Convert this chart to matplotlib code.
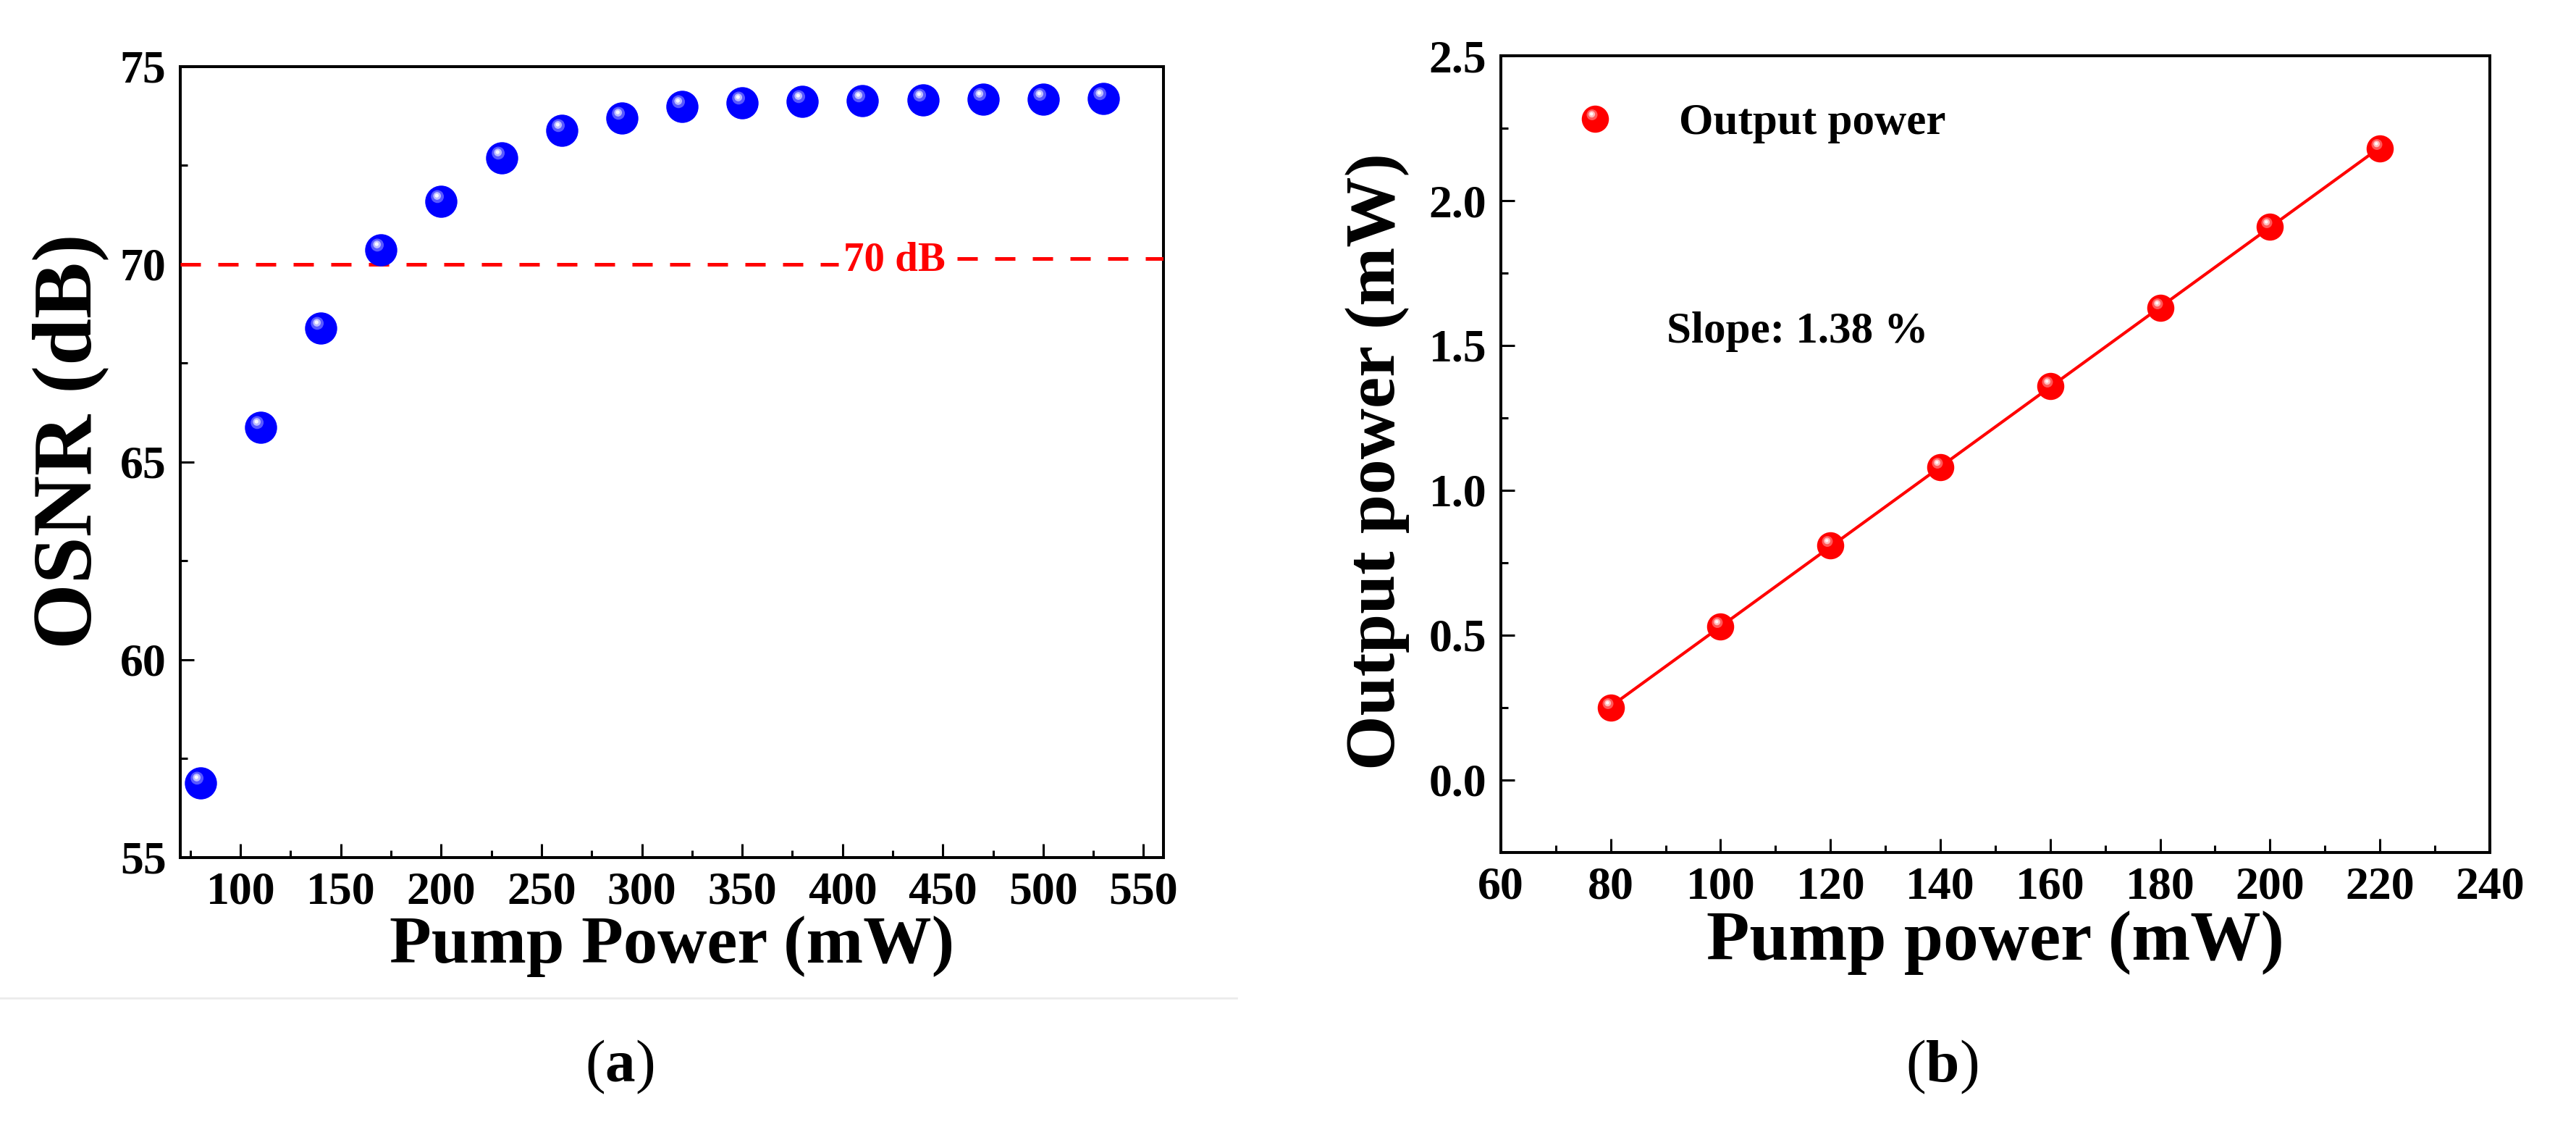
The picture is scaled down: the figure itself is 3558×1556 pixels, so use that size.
import matplotlib
matplotlib.use('Agg')
import matplotlib.pyplot as plt
import numpy as np
from matplotlib.path import Path
from matplotlib.markers import MarkerStyle
from matplotlib.lines import Line2D
from matplotlib.ticker import MultipleLocator, FormatStrFormatter
from matplotlib.legend_handler import HandlerTuple

# data
pump_a = [80, 110, 140, 170, 200, 230, 260, 290, 320, 350, 380, 410, 440, 470, 500, 530]
osnr = [56.89, 65.88, 68.39, 70.37, 71.59, 72.69, 73.39, 73.69, 73.99, 74.09,
        74.12, 74.13, 74.15, 74.17, 74.18, 74.19]
pump_b = [80, 100, 120, 140, 160, 180, 200, 220]
out_power = [0.25, 0.53, 0.81, 1.08, 1.36, 1.63, 1.91, 2.18]

plt.rcParams['font.family'] = ['Liberation Serif', 'DejaVu Serif']
plt.rcParams['font.weight'] = 'bold'
plt.rcParams['mathtext.fontset'] = 'custom'
plt.rcParams['mathtext.rm'] = 'Liberation Serif'
plt.rcParams['mathtext.bf'] = 'Liberation Serif:bold'


def glint(cx, cy, r):
    # off-centre highlight as its own marker path (the lone moveto fixes the scale)
    c = Path.circle((cx, cy), r)
    verts = [(0.5, 0.5)] + list(c.vertices)
    codes = [Path.MOVETO] + list(c.codes)
    return MarkerStyle(Path(verts, codes))


def sphere(ax, x, y, color, ms):
    h0, = ax.plot(x, y, 'o', color=color, ms=ms, mec=color, mew=0, zorder=5)
    h1, = ax.plot(x, y, ls='none', marker=glint(-0.12, 0.16, 0.2), color='white',
                  alpha=0.35, ms=ms, mew=0, zorder=6)
    h2, = ax.plot(x, y, ls='none', marker=glint(-0.13, 0.18, 0.12), color='white',
                  alpha=0.6, ms=ms, mew=0, zorder=7)
    h3, = ax.plot(x, y, ls='none', marker=glint(-0.14, 0.19, 0.06), color='white',
                  alpha=0.9, ms=ms, mew=0, zorder=8)
    return (h0, h1, h2, h3)


def style(ax):
    for s in ax.spines.values():
        s.set_linewidth(2.9)
    ax.tick_params(which='both', direction='in', top=False, right=False,
                   width=2.2, labelsize=46, pad=14)
    ax.tick_params(which='major', length=14)
    ax.tick_params(which='minor', length=7)


fig = plt.figure(figsize=(35.58, 15.56), dpi=100)

# (a) OSNR
ax1 = fig.add_axes([0.0700, 0.2391, 0.3817, 0.7018])
sphere(ax1, pump_a, osnr, '#0000ff', 32)
ax1.hlines(70.0, 70, 398, colors='#ff0000', lw=3.6, linestyles=(0, (5.6, 4.8)), zorder=3)
ax1.hlines(70.15, 457, 560, colors='#ff0000', lw=3.6, linestyles=(0, (5.6, 4.8)), zorder=3)
ax1.text(426, 70.1, '70 dB', color='#ff0000', fontsize=41, fontweight='bold',
         ha='center', va='center')
ax1.set_xlim(70, 560)
ax1.set_ylim(55, 75)
ax1.xaxis.set_minor_locator(MultipleLocator(25))
ax1.yaxis.set_major_locator(MultipleLocator(5))
ax1.yaxis.set_minor_locator(MultipleLocator(2.5))
ax1.set_xticks(np.arange(100, 551, 50))
style(ax1)
ax1.set_xlabel('Pump Power (mW)', fontsize=68, fontweight='bold', labelpad=2)
ax1.set_ylabel('OSNR (dB)', fontsize=84, fontweight='bold')
ax1.yaxis.set_label_coords(-0.073, 0.526)

# (b) output power
ax2 = fig.add_axes([0.5826, 0.2436, 0.3839, 0.7069])
k, b = np.polyfit(pump_b, out_power, 1)
xb = np.array(pump_b, dtype=float)
ax2.plot(xb, k * xb + b, color='#ff0000', lw=3, zorder=4)
hb = sphere(ax2, pump_b, out_power, '#ff0000', 27)
ax2.set_xlim(60, 240)
ax2.set_ylim(-0.25, 2.5)
ax2.xaxis.set_major_locator(MultipleLocator(20))
ax2.xaxis.set_minor_locator(MultipleLocator(10))
ax2.yaxis.set_major_locator(MultipleLocator(0.5))
ax2.yaxis.set_minor_locator(MultipleLocator(0.25))
ax2.yaxis.set_major_formatter(FormatStrFormatter('%.1f'))
style(ax2)
ax2.set_xlabel('Pump power (mW)', fontsize=70, fontweight='bold', labelpad=2)
ax2.set_ylabel('Output power (mW)', fontsize=70, fontweight='bold')
ax2.yaxis.set_label_coords(-0.0925, 0.491)
ax2.legend([hb], ['Output power'], loc='center left', bbox_to_anchor=(0.0728, 0.9155),
           frameon=False, fontsize=44, handlelength=1.0, handletextpad=1.4,
           borderpad=0, borderaxespad=0,
           handler_map={tuple: HandlerTuple(ndivide=1)})
ax2.text(90.2, 1.51, 'Slope: 1.38 %', fontsize=44, fontweight='bold', va='baseline')

# separator under panel (a) and captions
fig.add_artist(Line2D([0, 1708 / 3558], [1 - 1378 / 1556] * 2, color='#ebebeb', lw=2))
fig.text(856 / 3558, 1 - 1473 / 1556, r'($\mathbf{a}$)', fontsize=60, fontweight='normal',
         ha='center', va='center')
fig.text(2682 / 3558, 1 - 1473 / 1556, r'($\mathbf{b}$)', fontsize=60, fontweight='normal',
         ha='center', va='center')

fig.savefig('out.png', dpi=100, facecolor='white')
